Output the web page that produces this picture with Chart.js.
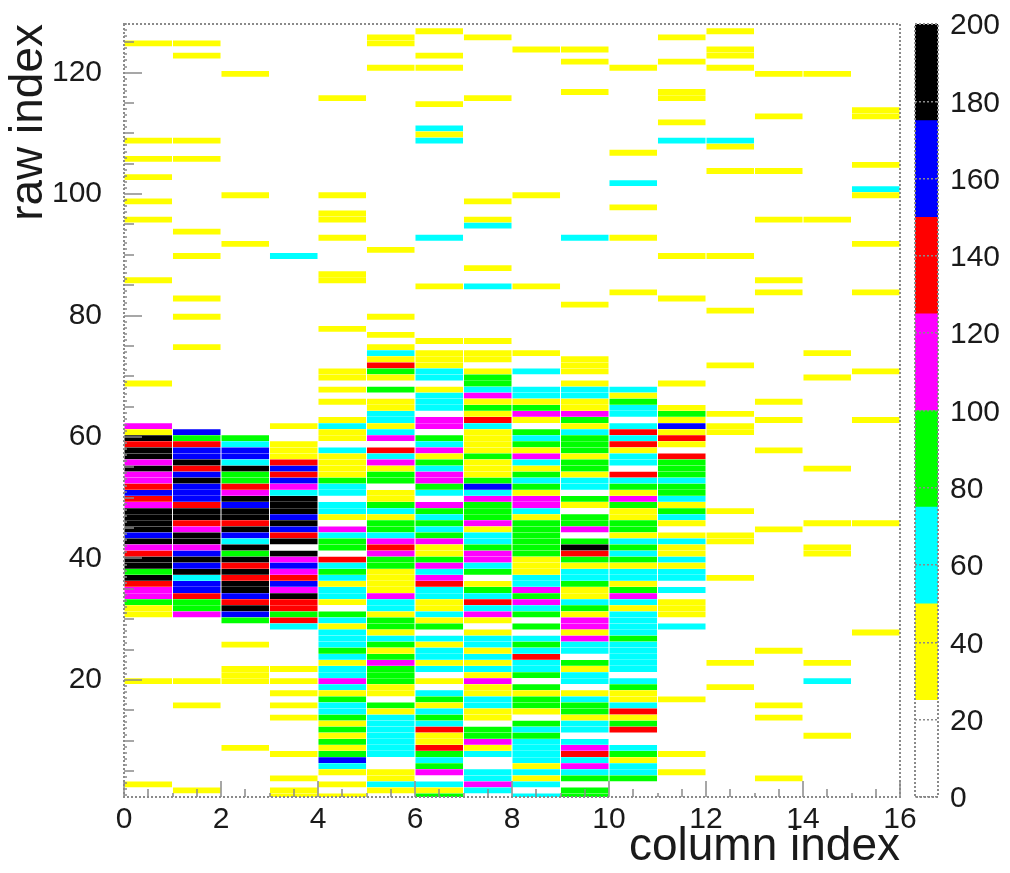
<!DOCTYPE html>
<html>
<head>
<meta charset="utf-8">
<title>raw index vs column index</title>
<script src="https://cdn.jsdelivr.net/npm/chart.js@4/dist/chart.umd.min.js"></script>
<style>
    html, body { margin: 0; background: #fff; }
    canvas { position: absolute; top: 0; filter: blur(0.6px); }
    #map { left: 0; }
    #palette { left: 900px; }
</style>
</head>
<body>
<canvas id="map" width="1010" height="873"></canvas>
<canvas id="palette" width="110" height="873"></canvas>
<script>
    'use strict';

    // Each column: [row, counts] for the rows that are not empty. Counts read as palette band midpoints.
    var column0 = [[124,38],[108,38],[105,38],[102,38],[98,38],[95,38],[85,38],[68,38],[61,112],[60,38],[59,188],[58,138],[57,188],[56,188],[55,112],[54,188],[53,112],[52,112],[51,138],[50,162],[49,138],[48,112],[47,188],[46,188],[45,188],[44,188],[43,162],[42,188],[41,112],[40,138],[39,188],[38,188],[37,88],[36,188],[35,138],[34,112],[33,112],[32,88],[31,38],[30,38],[19,38],[2,38]];
    var column1 = [[124,38],[122,38],[108,38],[105,38],[93,38],[89,38],[82,38],[79,38],[74,38],[60,162],[59,88],[58,138],[57,162],[56,162],[55,188],[54,138],[53,162],[52,188],[51,162],[50,162],[49,162],[48,138],[47,188],[46,188],[45,138],[44,112],[43,188],[42,188],[41,112],[40,162],[39,188],[38,162],[37,188],[36,62],[35,162],[34,162],[33,138],[32,88],[31,88],[30,112],[19,38],[15,38],[1,38]];
    var column2 = [[119,38],[99,38],[91,38],[59,88],[58,62],[57,162],[56,162],[55,62],[54,188],[53,88],[52,88],[51,138],[50,112],[49,188],[48,162],[47,188],[46,188],[45,138],[44,188],[43,162],[42,62],[41,188],[40,88],[39,188],[38,138],[37,188],[36,138],[35,188],[34,188],[33,162],[32,138],[31,188],[30,162],[29,88],[25,38],[21,38],[20,38],[19,38],[8,38]];
    var column3 = [[89,62],[61,38],[58,38],[57,38],[56,38],[55,138],[54,162],[53,138],[52,162],[51,112],[50,62],[49,188],[48,188],[47,188],[46,162],[45,188],[44,162],[43,138],[42,188],[40,188],[39,112],[38,162],[37,112],[36,138],[35,162],[34,112],[33,188],[32,138],[31,138],[30,88],[29,138],[28,62],[21,38],[19,38],[17,38],[15,38],[13,38],[7,38],[3,38],[1,38],[0,38]];
    var column4 = [[115,38],[99,38],[96,38],[95,38],[92,38],[86,38],[85,38],[77,38],[70,38],[69,38],[67,38],[65,38],[62,38],[61,62],[60,38],[59,38],[57,62],[56,38],[55,38],[54,38],[53,38],[52,88],[51,62],[50,62],[48,62],[47,62],[46,38],[44,112],[43,62],[42,88],[41,88],[39,138],[38,62],[37,88],[36,62],[35,38],[34,62],[33,62],[32,38],[30,88],[29,62],[28,38],[27,62],[26,62],[25,62],[24,88],[23,62],[22,38],[21,62],[20,62],[19,112],[18,62],[17,38],[16,88],[15,62],[14,62],[13,88],[12,38],[11,88],[10,38],[9,88],[8,38],[7,88],[6,162],[5,62],[4,38],[2,38],[0,38]];
    var column5 = [[125,38],[124,38],[120,38],[90,38],[79,38],[76,38],[74,38],[73,62],[72,38],[71,138],[70,88],[69,38],[67,88],[65,38],[64,38],[63,62],[62,62],[61,38],[60,62],[59,112],[57,138],[56,62],[55,112],[54,38],[53,88],[52,88],[50,38],[49,38],[48,88],[47,62],[46,38],[45,88],[44,88],[43,62],[42,112],[41,138],[40,112],[39,88],[38,88],[37,38],[36,38],[35,38],[34,38],[33,112],[32,62],[31,62],[30,38],[29,88],[28,88],[27,38],[26,62],[25,88],[24,38],[23,88],[22,112],[21,88],[20,88],[19,88],[18,38],[17,38],[15,88],[14,38],[13,62],[12,62],[11,62],[10,62],[9,62],[8,62],[7,62],[4,38],[3,38],[2,62],[1,38]];
    var column6 = [[126,38],[122,38],[120,38],[114,38],[110,62],[109,38],[108,62],[92,62],[84,38],[75,38],[73,38],[72,38],[71,38],[70,62],[69,62],[67,38],[66,62],[65,62],[64,62],[62,112],[61,112],[59,88],[58,62],[57,112],[56,38],[55,88],[54,62],[53,112],[52,112],[51,88],[50,62],[48,112],[47,88],[46,62],[45,88],[44,62],[43,88],[42,112],[41,38],[40,38],[39,88],[38,112],[37,62],[36,112],[35,138],[34,62],[33,62],[32,38],[31,38],[30,62],[29,38],[28,88],[26,62],[25,38],[24,62],[23,62],[22,38],[21,62],[19,38],[17,62],[16,88],[15,38],[14,62],[13,88],[12,62],[11,138],[10,38],[9,38],[8,138],[7,88],[6,62],[5,88],[4,112],[2,62],[1,38],[0,88]];
    var column7 = [[125,38],[115,38],[98,38],[95,38],[94,62],[87,38],[84,62],[75,38],[73,38],[72,38],[70,38],[69,88],[68,88],[67,62],[66,112],[65,38],[64,88],[63,38],[62,138],[61,62],[60,38],[59,38],[58,38],[57,38],[56,88],[55,38],[54,38],[53,38],[52,88],[51,162],[50,62],[49,112],[48,88],[47,88],[46,88],[45,112],[44,38],[43,62],[42,62],[41,88],[40,112],[39,112],[38,62],[37,88],[35,38],[34,88],[33,62],[32,138],[31,62],[30,112],[29,38],[27,38],[26,62],[25,62],[24,38],[23,62],[22,38],[21,62],[20,38],[19,112],[18,38],[17,38],[16,62],[15,62],[14,38],[13,38],[11,88],[10,88],[9,112],[8,38],[7,62],[4,62],[3,62],[2,112],[1,62]];
    var column8 = [[123,38],[99,38],[84,38],[73,38],[70,62],[67,62],[66,62],[65,38],[64,88],[63,112],[62,38],[60,88],[59,62],[58,88],[57,38],[56,112],[55,62],[54,38],[53,88],[52,62],[51,88],[50,38],[49,112],[48,112],[47,62],[46,38],[45,88],[44,88],[43,88],[42,88],[41,88],[40,88],[39,38],[38,38],[37,38],[36,62],[35,62],[34,112],[33,88],[32,112],[31,62],[30,88],[28,88],[26,62],[25,88],[24,62],[23,138],[22,62],[21,62],[20,88],[18,88],[17,38],[16,88],[15,88],[14,38],[12,88],[11,62],[10,88],[9,62],[8,62],[7,62],[6,62],[5,38],[4,62],[3,38],[2,62],[0,62]];
    var column9 = [[123,38],[121,38],[116,38],[92,62],[81,38],[72,38],[71,38],[70,38],[68,38],[67,62],[66,62],[65,38],[64,38],[63,112],[62,88],[61,38],[60,62],[59,88],[58,88],[57,88],[56,38],[55,88],[54,88],[53,38],[52,62],[51,62],[49,88],[48,38],[46,88],[45,88],[44,112],[42,88],[41,188],[40,138],[39,88],[38,38],[37,62],[36,62],[35,88],[34,38],[33,38],[32,62],[31,88],[30,38],[29,112],[28,112],[27,38],[26,112],[25,62],[24,62],[22,88],[21,38],[20,62],[19,62],[17,38],[16,62],[15,88],[14,88],[13,38],[12,62],[11,62],[9,62],[8,112],[7,138],[6,62],[5,112],[4,62],[3,88],[1,88],[0,88]];
    var column10 = [[120,38],[106,38],[101,62],[97,38],[92,38],[83,38],[67,62],[66,38],[65,88],[64,62],[63,62],[61,62],[60,138],[59,62],[58,138],[57,38],[56,62],[55,62],[53,138],[52,62],[51,88],[50,38],[49,112],[48,88],[47,38],[46,38],[45,88],[44,88],[43,38],[42,62],[41,88],[40,62],[39,88],[38,38],[37,62],[36,62],[35,38],[34,88],[33,112],[32,62],[31,38],[30,62],[29,62],[28,62],[27,62],[26,88],[25,62],[24,62],[23,62],[22,62],[21,62],[19,62],[18,88],[17,38],[16,38],[15,62],[14,138],[13,38],[12,88],[11,138],[8,62],[7,88],[6,38],[5,62],[4,62],[3,88]];
    var column11 = [[125,38],[121,38],[116,38],[115,38],[111,38],[108,62],[89,38],[82,38],[68,38],[64,38],[63,88],[62,38],[61,162],[60,38],[59,138],[58,38],[56,138],[55,88],[54,88],[53,88],[52,62],[51,88],[50,88],[49,62],[48,38],[47,88],[46,62],[45,38],[43,38],[42,62],[41,38],[40,38],[39,62],[38,38],[37,62],[36,62],[34,62],[32,38],[31,38],[30,38],[28,62],[16,38],[7,38],[4,38]];
    var column12 = [[126,38],[123,38],[122,38],[120,38],[108,62],[107,38],[103,38],[89,38],[80,38],[71,38],[63,38],[61,38],[60,38],[47,38],[43,38],[42,38],[36,38],[22,38],[18,38]];
    var column13 = [[119,38],[112,38],[103,38],[95,38],[85,38],[83,38],[65,38],[62,38],[57,38],[44,38],[24,38],[15,38],[13,38],[3,38]];
    var column14 = [[119,38],[95,38],[73,38],[69,38],[54,38],[45,38],[41,38],[40,38],[22,38],[19,62],[10,38]];
    var column15 = [[113,38],[112,38],[104,38],[100,62],[99,38],[91,38],[83,38],[70,38],[62,38],[45,38],[27,38]];
    var columns = [column0, column1, column2, column3, column4, column5, column6, column7, column8, column9, column10, column11, column12, column13, column14, column15];

    var paletteEdges = [0, 25, 50, 75, 100, 125, 150, 175, 200];
    var paletteColors = ['#ffffff', '#ffff00', '#00ffff', '#00ff00', '#ff00ff', '#ff0000', '#0000ff', '#000000'];
    var tickFont = { family: '"Liberation Sans", sans-serif', size: 30 };
    var titleFont = { family: '"Liberation Sans", sans-serif', size: 46 };
    var inkColor = '#1a1a1a';
    var frameColor = '#8a8a8a';

    var colorFor = function(counts) {
        var band = Math.min(Math.floor(counts / 25), paletteColors.length - 1);
        return paletteColors[band];
    };

    var cells = [];
    columns.forEach(function(column, i) {
        column.forEach(function(cell) {
            // Bins sit a little above the integer row number in the picture.
            cells.push({ x: [i + 0.01, i + 0.99], y: cell[0] + 0.8, counts: cell[1] });
        });
    });

    // Fixed axis boxes, so the plot area stays where the picture has it.
    var fixBox = function(size, key) {
        return function(scale) {
            scale[key] = size;
            scale.paddingTop = 0;
            scale.paddingBottom = 0;
            scale.paddingLeft = 0;
            scale.paddingRight = 0;
        };
    };

    // ROOT style axes: dotted frame, ticks pointing into the plot.
    var drawLine = function(ctx, x0, y0, x1, y1) {
        ctx.beginPath();
        ctx.moveTo(x0, y0);
        ctx.lineTo(x1, y1);
        ctx.stroke();
    };

    var rootFrame = {
        id: 'rootFrame',
        afterDatasetsDraw: function(chart) {
            var ctx = chart.ctx;
            var area = chart.chartArea;
            var v;
            ctx.save();
            ctx.strokeStyle = frameColor;
            ctx.lineWidth = 2;
            ctx.setLineDash([2, 2]);
            ctx.strokeRect(area.left, area.top, area.right - area.left, area.bottom - area.top);
            if (chart.canvas.id === 'map') {
                ctx.lineWidth = 1.5;
                ctx.setLineDash([]);
                for (v = 0; v <= 16; v += 0.5) {
                    var px = Math.round(chart.scales.x.getPixelForValue(v));
                    var xLen = v % 2 === 0 ? 16 : (v % 1 === 0 ? 4 : 8);
                    drawLine(ctx, px, area.bottom, px, area.bottom - xLen);
                }
                for (v = 1; v <= 128; v += 1) {
                    var py = Math.round(chart.scales.y.getPixelForValue(v));
                    var yLen = v % 20 === 0 ? 18 : (v % 5 === 0 ? 10 : 3);
                    drawLine(ctx, area.left, py, area.left + yLen, py);
                }
            }
            ctx.restore();
        }
    };

    new Chart(document.getElementById('map'), {
        type: 'bar',
        data: {
            datasets: [{
                data: cells,
                backgroundColor: function(c) {
                    return c.raw ? colorFor(c.raw.counts) : '#fff';
                },
                borderWidth: 0,
                barPercentage: 0.96,
                categoryPercentage: 1
            }]
        },
        options: {
            indexAxis: 'y',
            responsive: false,
            animation: false,
            events: [],
            layout: { padding: { left: 0, top: 24, right: 110, bottom: 0 } },
            plugins: { legend: { display: false }, tooltip: { enabled: false } },
            scales: {
                x: {
                    type: 'linear',
                    position: 'bottom',
                    min: 0,
                    max: 16,
                    beginAtZero: false,
                    afterFit: fixBox(76, 'height'),
                    border: { display: false },
                    grid: { display: false, drawTicks: false },
                    ticks: { stepSize: 2, padding: 5, color: inkColor, font: tickFont, maxRotation: 0 },
                    title: { display: true, text: 'column index', align: 'end', color: inkColor, font: titleFont, padding: { top: 0, bottom: -2 } }
                },
                y: {
                    type: 'linear',
                    position: 'left',
                    offset: false,
                    min: 0.72,
                    max: 128,
                    afterFit: fixBox(124, 'width'),
                    border: { display: false },
                    grid: { display: false, drawTicks: false, offset: false },
                    ticks: { stepSize: 20, includeBounds: false, padding: 22, color: inkColor, font: tickFont },
                    title: { display: true, text: 'raw index', align: 'end', color: inkColor, font: titleFont, padding: { top: 2, bottom: 0 } }
                }
            }
        },
        plugins: [rootFrame]
    });

    // Colour bar
    var bandData = paletteColors.map(function(color, i) {
        return {
            data: [paletteEdges[i + 1] - paletteEdges[i]],
            backgroundColor: color,
            borderWidth: 0,
            barPercentage: 1,
            categoryPercentage: 1
        };
    });

    new Chart(document.getElementById('palette'), {
        type: 'bar',
        data: { labels: ['counts'], datasets: bandData },
        options: {
            responsive: false,
            animation: false,
            events: [],
            layout: { padding: { left: 15, top: 24, right: 0, bottom: 0 } },
            plugins: { legend: { display: false }, tooltip: { enabled: false } },
            scales: {
                x: {
                    stacked: true,
                    position: 'bottom',
                    afterFit: fixBox(76, 'height'),
                    border: { display: false },
                    grid: { display: false, drawTicks: false },
                    ticks: { display: false }
                },
                y: {
                    stacked: true,
                    position: 'right',
                    min: 0,
                    max: 200,
                    afterFit: fixBox(72, 'width'),
                    border: { display: false, dash: [2, 2] },
                    grid: { z: 1, color: frameColor, lineWidth: 1.5, drawTicks: false },
                    ticks: { stepSize: 20, padding: 12, labelOffset: 2, color: inkColor, font: tickFont }
                }
            }
        },
        plugins: [rootFrame]
    });
</script>
</body>
</html>
